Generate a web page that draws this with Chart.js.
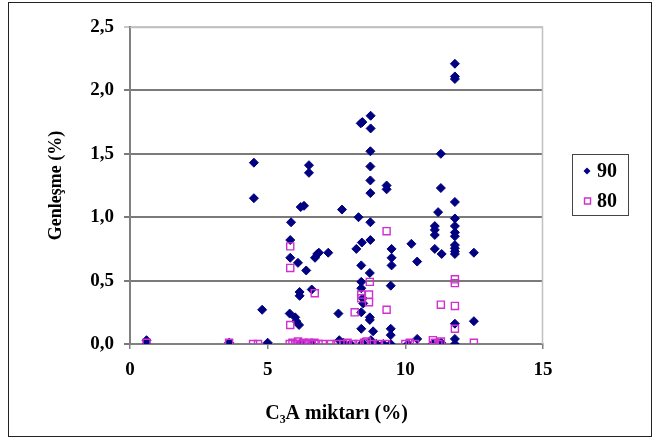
<!DOCTYPE html>
<html>
<head>
<meta charset="utf-8">
<script src="https://cdn.jsdelivr.net/npm/chart.js@4/dist/chart.umd.min.js"></script>
<style>
  html, body { margin: 0; padding: 0; background: #fff; }
  #wrap { width: 660px; height: 439px; }
</style>
</head>
<body>
<div id="wrap"><canvas id="scatter" width="660" height="439"></canvas></div>
<script>
// C3A content (%) vs expansion (%), two series
const seriesNames = ['90', '80'];

const x90 = [0.6, 0.6, 3.6, 4.5, 4.5, 4.8, 5.0, 5.85, 5.82, 5.82, 6.1, 5.8, 6.0, 6.04, 6.14,
  6.2, 6.32, 6.4, 6.16, 6.16, 6.5, 6.5, 6.6, 6.72, 6.8, 6.86, 7.2, 7.57, 7.7, 7.6,
  8.3, 8.22, 8.42, 8.44, 8.38, 8.74, 8.74, 8.73, 8.73, 8.73, 8.73, 8.73, 8.73, 8.4, 8.4,
  8.4, 8.71, 8.47, 8.45, 8.4, 8.4, 8.71, 8.71, 8.83, 9.32, 9.32, 9.5, 9.5, 9.5, 9.47,
  9.47, 9.47, 10.22, 10.43, 11.07, 11.07, 11.07, 11.07, 11.19, 11.29, 11.29, 11.32,
  11.8, 11.8, 11.8, 11.8, 11.8, 11.8, 11.8, 11.8, 11.8, 11.8, 11.8, 11.8, 11.8, 11.8, 11.8,
  12.49, 12.49,
  6.2, 6.6, 7.75, 8.0, 8.45, 8.75, 8.95, 9.2, 9.47, 10.1, 10.43, 11.0, 11.3];
const y90 = [0.03, 0.0, 0.01, 1.43, 1.15, 0.27, 0.01, 0.96, 0.82, 0.68, 0.64, 0.24, 0.21, 0.18, 0.15,
  1.08, 1.09, 0.58, 0.41, 0.38, 1.41, 1.35, 0.43, 0.68, 0.71, 0.72, 0.72, 0.24, 1.06, 0.03,
  1.0, 0.75, 0.8, 1.75, 1.74, 1.80, 1.70, 1.52, 1.40, 1.29, 1.19, 0.96, 0.82, 0.62, 0.49,
  0.44, 0.56, 0.32, 0.36, 0.25, 0.12, 0.21, 0.19, 0.10, 1.25, 1.22, 0.75, 0.68, 0.62, 0.46,
  0.12, 0.07, 0.79, 0.65, 0.93, 0.90, 0.86, 0.75, 1.04, 1.50, 1.23, 0.71,
  2.21, 2.11, 2.09, 1.12, 0.99, 0.93, 0.88, 0.85, 0.78, 0.755, 0.73, 0.71, 0.16, 0.04, 0.0,
  0.72, 0.18,
  0.01, 0.0, 0.01, 0.0, 0.01, 0.03, 0.0, 0.0, 0.0, 0.0, 0.04, 0.0, 0.01];

const x80 = [0.6, 3.6, 4.47, 4.65, 5.82, 5.82, 5.82, 6.71, 8.16, 8.4, 8.4, 8.68, 8.68, 8.71,
  9.32, 9.32, 11.29, 11.8, 11.8, 11.8, 11.8, 12.49,
  5.8, 5.9, 6.0, 6.1, 6.2, 6.3, 6.4, 6.5, 6.6, 6.7, 6.85, 7.0, 7.3, 7.5, 7.75, 7.9, 8.1,
  8.3, 8.5, 8.6, 8.8, 9.0, 9.3, 10.0, 10.16, 10.35, 11.0, 11.07, 11.2, 11.29];
const y80 = [0.01, 0.01, 0.0, 0.0, 0.77, 0.60, 0.15, 0.40, 0.25, 0.39, 0.36, 0.39, 0.33, 0.49,
  0.89, 0.27, 0.31, 0.51, 0.48, 0.30, 0.12, 0.01,
  0.0, 0.01, 0.0, 0.02, 0.0, 0.01, 0.0, 0.01, 0.0, 0.01, 0.0, 0.0, 0.0, 0.0, 0.0, 0.01, 0.0,
  0.0, 0.01, 0.02, 0.0, 0.0, 0.0, 0.0, 0.01, 0.0, 0.03, 0.01, 0.0, 0.02];

const xTicks = [0, 5, 10, 15];
const yTicks = [0, 0.5, 1.0, 1.5, 2.0, 2.5];

const serif = "'Liberation Serif', 'Times New Roman', 'DejaVu Serif', serif";
const navy = '#000080';
const pink = '#d030d0';

function toPoints(xs, ys) {
  return xs.map((x, i) => ({ x: x, y: ys[i] }));
}

// outer frame, light plot border and the small legend box
const framePlugin = {
  id: 'frame',
  afterDraw(chart) {
    const ctx = chart.ctx;
    const a = chart.chartArea;
    ctx.save();
    ctx.strokeStyle = '#c0c0c0';
    ctx.lineWidth = 1.5;
    ctx.beginPath();
    ctx.moveTo(a.left, a.top + 0.5);
    ctx.lineTo(a.right - 0.5, a.top + 0.5);
    ctx.lineTo(a.right - 0.5, a.bottom);
    ctx.stroke();

    ctx.strokeStyle = '#222';
    ctx.lineWidth = 1;
    ctx.strokeRect(8.5, 2.5, 643, 434);

    // legend
    ctx.strokeStyle = '#444';
    ctx.strokeRect(572.5, 154.5, 56, 61);
    ctx.font = 'bold 20px ' + serif;
    ctx.textBaseline = 'middle';
    ctx.textAlign = 'left';
    chart.data.datasets.forEach((ds, i) => {
      const cy = 171 + i * 30;
      ctx.fillStyle = ds.backgroundColor;
      ctx.strokeStyle = ds.borderColor;
      ctx.lineWidth = ds.borderWidth;
      ctx.beginPath();
      if (i === 0) {
        ctx.moveTo(587, cy - 3.5); ctx.lineTo(590.5, cy); ctx.lineTo(587, cy + 3.5); ctx.lineTo(583.5, cy);
        ctx.closePath(); ctx.fill();
      } else {
        ctx.rect(584.5, cy - 3, 6, 6); ctx.stroke();
      }
      ctx.fillStyle = '#000';
      ctx.fillText(ds.label, 597, cy + 1);
    });
    ctx.restore();
  }
};

new Chart(document.getElementById('scatter'), {
  type: 'scatter',
  data: {
    datasets: [
      {
        label: seriesNames[0],
        data: toPoints(x90, y90),
        pointStyle: 'rectRot',
        pointRadius: 4.5,
        backgroundColor: navy,
        borderColor: navy,
        borderWidth: 1,
        order: 1
      },
      {
        label: seriesNames[1],
        data: toPoints(x80, y80),
        pointStyle: 'rect',
        pointRadius: 5,
        backgroundColor: 'rgba(0,0,0,0)',
        borderColor: pink,
        borderWidth: 1.4,
        order: 0
      }
    ]
  },
  options: {
    responsive: false,
    animation: false,
    layout: { padding: { top: 27, right: 117, bottom: 0, left: 0 } },
    plugins: {
      legend: { display: false },
      tooltip: { enabled: false }
    },
    scales: {
      x: {
        type: 'linear',
        min: 0,
        max: 15,
        afterFit(s) { s.height = 95; },
        afterBuildTicks(s) { s.ticks = xTicks.map(v => ({ value: v })); },
        grid: { drawOnChartArea: false, drawTicks: true, tickLength: 5, color: '#808080', lineWidth: 1.5 },
        border: { color: '#808080', width: 2 },
        ticks: {
          padding: 10,
          color: '#000',
          font: { family: serif, size: 19, weight: 'bold' }
        },
        title: {
          display: true,
          text: 'C₃A miktarı (%)',
          color: '#000',
          padding: { bottom: 13 },
          font: { family: serif, size: 20, weight: 'bold' }
        }
      },
      y: {
        type: 'linear',
        min: 0,
        max: 2.5,
        afterFit(s) { s.width = 130; },
        afterBuildTicks(s) { s.ticks = yTicks.map(v => ({ value: v })); },
        grid: {
          drawTicks: true,
          tickLength: 6,
          lineWidth: 2,
          color: ctx => ctx.tick && ctx.tick.value === 2.5 ? '#c8c8c8' : '#7a7a7a'
        },
        border: { color: '#808080', width: 2 },
        ticks: {
          padding: 10,
          color: '#000',
          font: { family: serif, size: 19, weight: 'bold' },
          callback: v => v.toFixed(1).replace('.', ',')
        },
        title: {
          display: true,
          text: 'Genleşme (%)',
          color: '#000',
          padding: { top: 46 },
          font: { family: serif, size: 18, weight: 'bold' }
        }
      }
    }
  },
  plugins: [framePlugin]
});
</script>
</body>
</html>
